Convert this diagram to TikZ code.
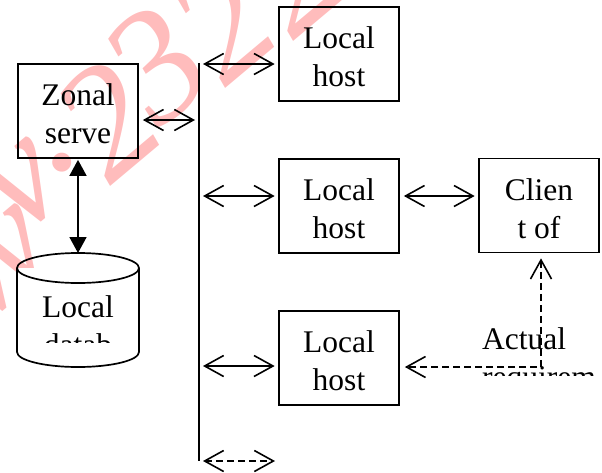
\documentclass[tikz,border=0pt]{standalone}
\usepackage{fontspec}
\setmainfont{Liberation Serif}
\usetikzlibrary{arrows.meta}
\definecolor{wm}{RGB}{255,188,188}
\begin{document}
\begin{tikzpicture}[x=1pt,y=-1pt,
  txt/.style={font=\fontsize{31.5}{38}\selectfont, align=center, inner sep=0pt},
  hostbox/.style={draw, line width=1.7pt, minimum width=120pt, minimum height=94pt, inner sep=0pt},
  hosttext/.style={txt, yshift=-3pt},
  wmchar/.style={text=wm, font=\fontsize{160}{160}\selectfont\itshape, rotate=40, inner sep=0pt},
  biarrow/.style={line width=1.6pt, {Straight Barb[length=19pt,width=21pt]}-{Straight Barb[length=19pt,width=21pt]}},
  dbarrow/.style={line width=1.6pt, {Triangle[length=16pt,width=17pt]}-{Triangle[length=16pt,width=17pt]}},
  dasharrow/.style={biarrow, dash pattern=on 7pt off 4pt}]
\useasboundingbox (0,0) rectangle (602,472);
% watermark
\node[wmchar] (w0) at (0,265) {w};
\node[wmchar] (w1) at (25,187) {v};
\node[wmchar] (w2) at (65,160) {.};
\node[wmchar] (w3) at (107,120) {2};
\node[wmchar] (w4) at (157,65) {3};
\node[wmchar] (w5) at (222,22) {2};
\node[wmchar] (w6) at (290,-25) {2};
% boxes
\node[hostbox] (z) at (78,111) {};
\node[hosttext] (zt) at (z) {Zonal\\serve};
\node[hostbox] (h1) at (339,54) {};
\node[hosttext] (h1t) at (h1) {Local\\host};
\node[hostbox] (h2) at (339,206) {};
\node[hosttext] (h2t) at (h2) {Local\\host};
\node[hostbox] (h3) at (339,358) {};
\node[hosttext] (h3t) at (h3) {Local\\host};
\node[hostbox] (c) at (539,205.5) {};
\node[hosttext] (ct) at (c) {Clien\\t of};
% database cylinder
\coordinate (dbtop) at (78,253);
\draw[line width=1.7pt, fill=white] (17,268) -- (17,352) arc[start angle=180, end angle=360, x radius=61, y radius=-15] -- (139,268);
\draw[line width=1.7pt] (78,268) ellipse[x radius=61, y radius=15];
\begin{scope}
  \clip (17,284) rectangle (139,342);
  \node[txt, anchor=base] (dbt) at (78,355) {Local\\datab};
\end{scope}
% bus
\coordinate (bt) at (199,63);
\coordinate (bb) at (199,461);
\draw[line width=1.7pt] (bt) -- (bb);
% arrows
\coordinate (a0) at (143,120);
\draw[biarrow, shorten <=4pt, shorten >=4pt] (z.east |- a0) -- (bt |- a0);
\coordinate (a1) at (203,64);
\draw[biarrow, shorten >=3.5pt] (a1) -- (a1 -| h1.west);
\coordinate (a2) at (203,196);
\draw[biarrow, shorten >=3.5pt] (a2) -- (a2 -| h2.west);
\coordinate (a3) at (203,366);
\draw[biarrow, shorten >=3.5pt] (a3) -- (a3 -| h3.west);
\coordinate (a4) at (203,461);
\coordinate (a4e) at (275,461);
\draw[dasharrow] (a4) -- (a4e);
\draw[biarrow, shorten <=4pt, shorten >=3.5pt] (h2.east |- a2) -- (c.west |- a2);
\draw[dbarrow, shorten <=1pt] (z.south) -- (dbtop);
% actual requirement
\begin{scope}
  \clip (470,320) rectangle (602,375);
  \node[txt, anchor=base west, align=left] (act) at (482,387) {Actual\\requirem};
\end{scope}
\coordinate (corner) at (541,367);
\draw[dasharrow, shorten <=5pt, shorten >=5pt] (corner |- c.south) -- (corner) -- (h3.east |- corner);
\end{tikzpicture}
\end{document}
